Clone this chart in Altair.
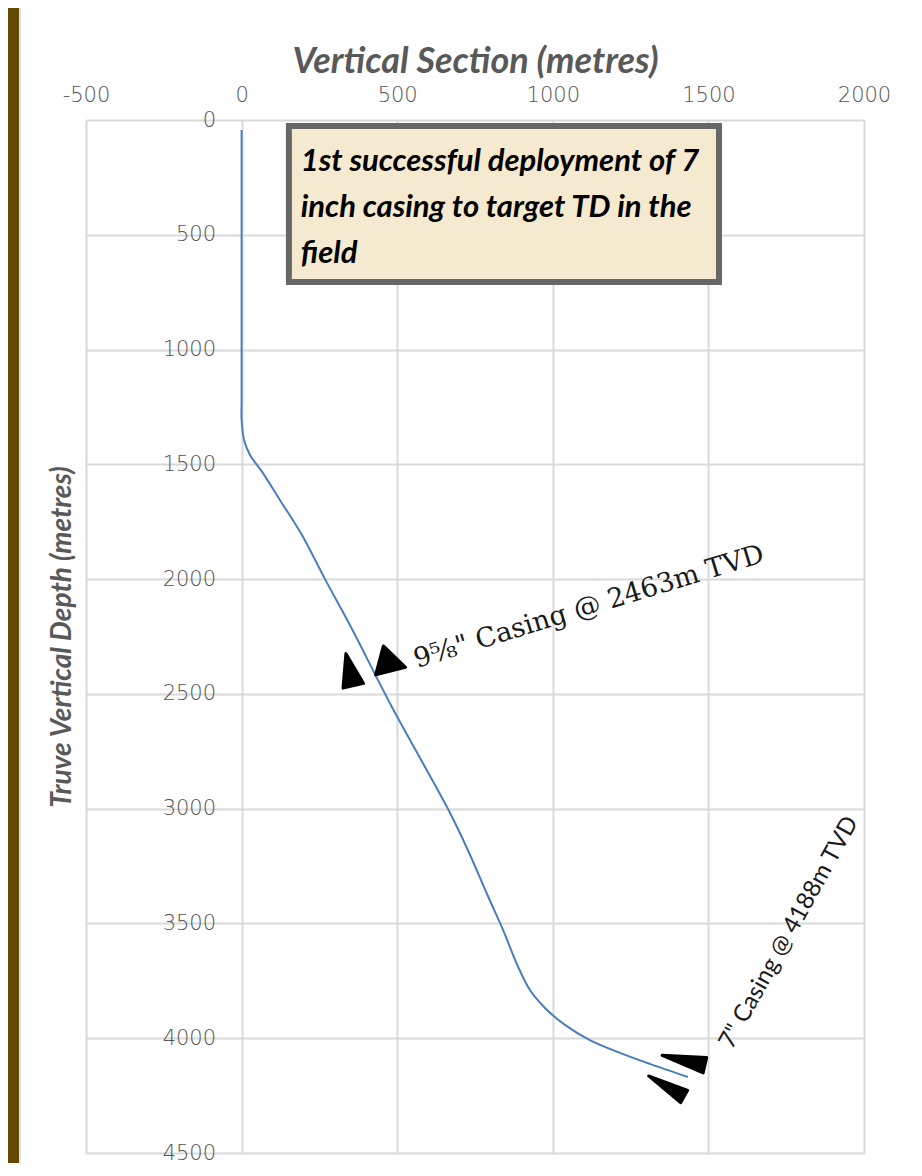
import altair as alt
import pandas as pd

# ---- data ----
x_ticks = [-500, 0, 500, 1000, 1500, 2000]
y_ticks = [0, 500, 1000, 1500, 2000, 2500, 3000, 3500, 4000, 4500]

# well trajectory: vertical section (m) vs true vertical depth (m)
vertical_section = [0, 0, 0, 0, 8, 27, 66, 123, 194, 268, 348, 483, 577, 665,
                    727, 790, 840, 886, 926, 975, 1039, 1119, 1216, 1312, 1434]
true_vertical_depth = [44, 784, 1220, 1307, 1394, 1459, 1533, 1655, 1808, 2000,
                       2200, 2557, 2788, 3006, 3180, 3376, 3528, 3681, 3789, 3868,
                       3942, 4008, 4064, 4112, 4169]

# casing shoe markers (two per casing point)
marker_vs = [351, 471, 1443, 1384]
marker_tvd = [2418, 2364, 4103, 4224]

# casing labels
casing_labels = ['9\u2075\u2044\u2088" Casing @ 2463m TVD', '7" Casing @ 4188m TVD']
label_vs = [564, 1576]
label_tvd = [2387, 4051]

# note box
note_lines = ["1st successful deployment of 7", "inch casing to target TD in the", "field"]
note_box = {"vs": [152], "vs2": [1534], "tvd": [26], "tvd2": [706]}
note_anchor = {"vs": [190], "tvd": [222]}

# ---- chart ----
W, H = 778, 1033
GREY = "#595959"

x_scale = alt.Scale(domain=[-500, 2000], nice=False, zero=False)
y_scale = alt.Scale(domain=[0, 4500], nice=False, reverse=True)

x_axis = alt.Axis(orient="top", values=x_ticks, title="Vertical Section (metres)",
                  titleFont="Lato", titleFontStyle="italic", titleFontWeight="bold",
                  titleFontSize=36, titleColor=GREY, titlePadding=4,
                  labelFont="DejaVu Sans", labelFontSize=21, labelColor="#555555",
                  labelFontWeight=300, labelPadding=15, labelFlush=False,
                  ticks=False, domain=False, grid=True, gridColor="#d9d9d9",
                  gridWidth=2, labelExpr="'' + datum.value")
y_axis = alt.Axis(orient="left", values=y_ticks, offset=-155.6,
                  title="Truve Vertical Depth (metres)",
                  titleX=-179.6, titleY=H / 2, titleAngle=270, titleAlign="center",
                  titleBaseline="middle",
                  titleFont="Lato", titleFontStyle="italic", titleFontWeight="bold",
                  titleFontSize=28, titleColor=GREY,
                  labelFont="DejaVu Sans", labelFontSize=21, labelColor="#555555",
                  labelFontWeight=300, labelPadding=26, labelFlush=False,
                  ticks=False, domain=False, grid=True, gridColor="#d9d9d9",
                  gridWidth=2, labelExpr="'' + datum.value")

x_enc = alt.X("vs:Q", scale=x_scale, axis=x_axis)
y_enc = alt.Y("tvd:Q", scale=y_scale, axis=y_axis)

one = pd.DataFrame({"a": [0]})

frame = alt.Chart(one).mark_rect(color="#634a00").encode(
    x=alt.value(-78), x2=alt.value(-67), y=alt.value(-112), y2=alt.value(H + 10))
frame_edge = alt.Chart(one).mark_rect(color="#e0e0e0").encode(
    x=alt.value(-67), x2=alt.value(-65), y=alt.value(-112), y2=alt.value(H + 10))

traj = pd.DataFrame({"vs": vertical_section, "tvd": true_vertical_depth,
                     "i": list(range(len(vertical_section)))})
line = alt.Chart(traj).mark_line(color="#4a7ebf", strokeWidth=2,
                                 interpolate="catmull-rom").encode(
    x=x_enc, y=y_enc, order="i:Q")

box = alt.Chart(pd.DataFrame(note_box)).mark_rect(
    fill="#f5e9cf", stroke="#676767", strokeWidth=6).encode(
    x=x_enc, x2="vs2:Q", y=y_enc, y2="tvd2:Q")

note = alt.Chart(pd.DataFrame({**note_anchor, "t": ["\n".join(note_lines)]})).mark_text(
    align="left", baseline="alphabetic", font="Lato", fontStyle="italic",
    fontWeight="bold", fontSize=31, lineHeight=46, lineBreak="\n", color="black"
).encode(x=x_enc, y=y_enc, text="t:N")

marker_styles = [
    ("M0,-1L0.48,0.5L-0.48,0.5Z", 1936, 347),
    ("M0,-1L0.83,0.5L-0.83,0.5Z", 1296, 105),
    ("M0,-1L0.27,0.5L-0.27,0.5Z", 3436, 283),
    ("M0,-1L0.26,0.5L-0.26,0.5Z", 2990, 300),
]
markers = []
for (path, size, ang), mx, my in zip(marker_styles, marker_vs, marker_tvd):
    markers.append(
        alt.Chart(pd.DataFrame({"vs": [mx], "tvd": [my]})).mark_point(
            shape=path, size=size, angle=ang, filled=True, fill="black",
            stroke="black", strokeWidth=3, strokeJoin="round", opacity=1
        ).encode(x=x_enc, y=y_enc))

lab1 = alt.Chart(pd.DataFrame({"vs": [label_vs[0]], "tvd": [label_tvd[0]],
                               "t": [casing_labels[0]]})).mark_text(
    align="left", baseline="alphabetic", angle=343, font="DejaVu Serif",
    fontSize=27, color="#1a1a1a").encode(x=x_enc, y=y_enc, text="t:N")
lab2 = alt.Chart(pd.DataFrame({"vs": [label_vs[1]], "tvd": [label_tvd[1]],
                               "t": [casing_labels[1]]})).mark_text(
    align="left", baseline="alphabetic", angle=299, font="Lato",
    fontSize=24, color="#1a1a1a").encode(x=x_enc, y=y_enc, text="t:N")

chart = alt.layer(frame, frame_edge, line, box, note, *markers, lab1, lab2).properties(
    width=W, height=H,
    autosize=alt.AutoSizeParams(type="none"),
    padding={"left": 78, "top": 112, "right": 50, "bottom": 10},
    background="white",
).configure_view(stroke=None)

chart.save("out.html", embed_options={"renderer": "svg", "actions": False})
